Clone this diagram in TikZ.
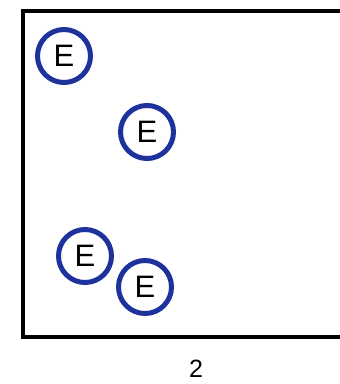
\documentclass[tikz,border=0pt]{standalone}
\usepackage{fontspec}
\setmainfont{Liberation Sans}
\definecolor{ringblue}{RGB}{30,50,155}
\begin{document}
\begin{tikzpicture}[x=1pt,y=-1pt,
  ebox/.style={circle,draw=ringblue,line width=5pt,minimum size=53pt,inner sep=0pt,
    font=\fontsize{31}{33}\selectfont,text=black},
  frame/.style={draw=black,line width=4.5pt}]
\clip (0,0) rectangle (340,384);
\fill[white] (0,0) rectangle (340,384);
\draw[frame] (23,11) rectangle (360,337);
\node[ebox] (e1) at (64,56) {E};
\node[ebox] (e2) at (147,132) {E};
\node[ebox] (e3) at (85,256) {E};
\node[ebox] (e4) at (145,287) {E};
\node[font=\fontsize{25}{27}\selectfont] (lab) at (196,369) {2};
\end{tikzpicture}
\end{document}
